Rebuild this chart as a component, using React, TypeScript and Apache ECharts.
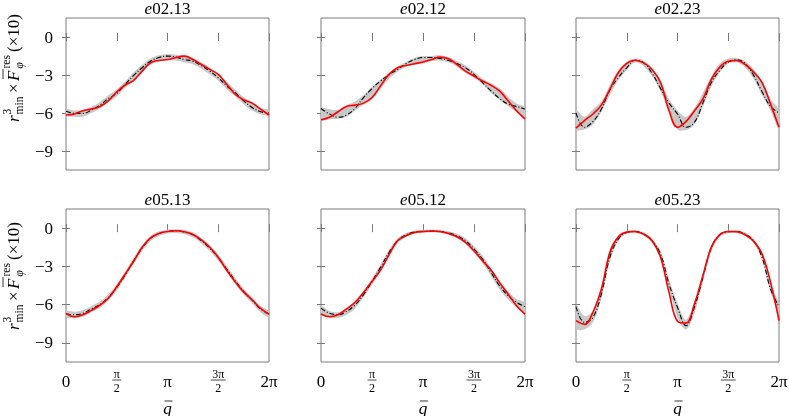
import React, { useEffect, useRef } from "react";
import * as echarts from "echarts";

// x positions in units of pi/12 (0 .. 2pi)
const Q_STEPS = [0, 1, 2, 3, 4, 5, 6, 7, 8, 9, 10, 11, 12, 13, 14, 15, 16, 17, 18, 19, 20, 21, 22, 23, 24];
const X_TICKS = [0, 6, 12, 18, 24];
const X_TICK_LABELS = ["0", "π/2", "π", "3π/2", "2π"];
const Y_TICKS = [0, -3, -6, -9];
const PANEL_TITLES = ["02.13", "02.12", "02.23", "05.13", "05.12", "05.23"];

// e02.13
const e0213Model = [-5.87, -6.03, -6.03, -5.77, -5.38, -4.86, -4.46, -3.73, -3.03, -2.43, -1.91, -1.62, -1.51, -1.59, -1.78, -1.91, -2.25, -2.69, -3.21, -3.86, -4.39, -5.04, -5.56, -5.9, -6.0];
const e0213Fit = [-6.16, -6.08, -5.82, -5.69, -5.48, -5.04, -4.33, -3.79, -3.42, -2.69, -2.04, -1.85, -1.78, -1.62, -1.51, -1.78, -2.17, -2.56, -2.95, -3.73, -4.52, -4.96, -5.22, -5.69, -6.16];
const e0213Low = [-6.2, -6.3, -6.3, -6.0, -5.65, -5.15, -4.7, -4.0, -3.45, -2.75, -2.2, -1.9, -1.85, -1.85, -2.0, -2.15, -2.5, -2.95, -3.45, -4.1, -4.7, -5.3, -5.8, -6.1, -6.2];
const e0213High = [-5.7, -5.8, -5.75, -5.5, -5.15, -4.6, -4.15, -3.5, -2.8, -2.2, -1.7, -1.45, -1.35, -1.4, -1.45, -1.65, -2.0, -2.4, -2.9, -3.55, -4.15, -4.75, -5.15, -5.6, -5.75];

// e02.12
const e0212Model = [-5.64, -6.08, -6.34, -6.16, -5.64, -4.78, -4.07, -3.47, -2.98, -2.56, -2.11, -1.78, -1.62, -1.62, -1.7, -1.85, -2.09, -2.43, -2.95, -3.6, -4.26, -4.86, -5.3, -5.48, -5.69];
const e0212Fit = [-6.53, -6.34, -5.9, -5.48, -5.38, -5.22, -4.78, -3.86, -2.95, -2.43, -2.25, -2.11, -1.98, -1.78, -1.59, -1.72, -2.17, -2.69, -3.08, -3.47, -3.81, -4.26, -5.04, -5.82, -6.47];
const e0212Low = [-6.6, -6.5, -6.45, -6.3, -5.8, -5.35, -4.95, -4.1, -3.3, -2.75, -2.35, -2.2, -2.1, -1.9, -1.85, -2.0, -2.35, -2.85, -3.25, -3.7, -4.4, -4.95, -5.45, -5.95, -6.55];
const e0212High = [-5.6, -5.7, -5.75, -5.4, -5.1, -4.6, -3.95, -3.35, -2.85, -2.35, -1.95, -1.65, -1.5, -1.5, -1.45, -1.6, -1.9, -2.25, -2.75, -3.3, -3.65, -4.05, -4.7, -5.25, -5.55];

// e02.23
const e0223Model = [-6.0, -7.13, -6.68, -5.69, -4.18, -3.21, -2.43, -1.83, -2.04, -2.87, -4.07, -5.22, -6.08, -7.13, -6.74, -5.22, -3.6, -2.64, -1.98, -1.8, -2.09, -3.03, -4.33, -5.48, -6.0];
const e0223Fit = [-7.2, -6.6, -6.08, -5.38, -4.13, -2.82, -2.09, -1.83, -2.04, -2.56, -3.6, -5.82, -7.13, -6.68, -5.82, -4.91, -3.34, -2.38, -1.91, -1.85, -2.17, -2.77, -3.6, -5.3, -7.13];
const e0223Low = [-7.3, -7.3, -6.9, -5.9, -4.6, -3.4, -2.6, -2.0, -2.3, -3.1, -4.3, -5.9, -7.3, -7.35, -6.9, -5.5, -3.9, -2.8, -2.1, -2.0, -2.4, -3.3, -4.6, -5.8, -7.3];
const e0223High = [-5.8, -6.3, -5.7, -5.1, -3.8, -2.6, -1.95, -1.7, -1.85, -2.45, -3.5, -4.9, -5.8, -6.3, -5.6, -4.4, -3.1, -2.1, -1.7, -1.65, -1.9, -2.55, -3.5, -4.9, -5.8];

// e05.13
const e0513Model = [-6.74, -6.79, -6.68, -6.34, -6.0, -5.43, -4.65, -3.66, -2.56, -1.57, -0.81, -0.42, -0.26, -0.21, -0.31, -0.52, -0.99, -1.57, -2.3, -3.21, -4.13, -4.96, -5.64, -6.34, -6.74];
const e0513Fit = [-6.68, -6.95, -6.8, -6.45, -6.05, -5.5, -4.6, -3.6, -2.6, -1.5, -0.76, -0.42, -0.26, -0.2, -0.28, -0.5, -0.92, -1.5, -2.3, -3.3, -4.2, -5.0, -5.62, -6.3, -6.75];
const e0513Low = [-7.0, -7.05, -6.95, -6.6, -6.25, -5.7, -4.9, -3.9, -2.8, -1.8, -1.0, -0.6, -0.42, -0.38, -0.48, -0.72, -1.2, -1.8, -2.55, -3.45, -4.4, -5.2, -5.9, -6.6, -7.0];
const e0513High = [-6.5, -6.55, -6.45, -6.1, -5.75, -5.2, -4.4, -3.4, -2.3, -1.35, -0.6, -0.25, -0.12, -0.08, -0.15, -0.33, -0.78, -1.35, -2.05, -2.95, -3.9, -4.75, -5.4, -6.1, -6.5];

// e05.12
const e0512Model = [-6.27, -6.68, -6.79, -6.53, -6.03, -5.22, -4.18, -3.08, -1.91, -0.99, -0.52, -0.31, -0.26, -0.23, -0.26, -0.37, -0.6, -0.99, -1.64, -2.43, -3.47, -4.52, -5.3, -5.82, -6.16];
const e0512Fit = [-6.74, -6.95, -6.79, -6.34, -5.82, -5.04, -4.18, -3.29, -2.09, -0.99, -0.6, -0.34, -0.26, -0.23, -0.26, -0.42, -0.68, -1.12, -1.78, -2.56, -3.29, -4.26, -5.17, -6.08, -6.74];
const e0512Low = [-6.75, -7.0, -7.05, -6.8, -6.3, -5.45, -4.45, -3.4, -2.2, -1.2, -0.7, -0.45, -0.38, -0.35, -0.38, -0.52, -0.8, -1.25, -1.95, -2.75, -3.75, -4.8, -5.6, -6.2, -6.65];
const e0512High = [-6.1, -6.5, -6.6, -6.3, -5.75, -4.95, -3.95, -2.85, -1.7, -0.8, -0.38, -0.2, -0.14, -0.12, -0.14, -0.25, -0.45, -0.8, -1.4, -2.15, -3.15, -4.2, -4.95, -5.55, -5.85];

// e05.23
const e0523Model = [-6.16, -7.39, -7.0, -5.17, -2.3, -0.86, -0.34, -0.26, -0.47, -0.99, -2.04, -4.39, -6.21, -7.65, -6.21, -3.86, -1.51, -0.52, -0.29, -0.26, -0.47, -0.99, -2.3, -4.78, -6.16];
const e0523Fit = [-7.26, -7.55, -6.6, -4.78, -1.91, -0.68, -0.31, -0.26, -0.47, -0.99, -2.3, -5.04, -7.3, -7.45, -5.95, -3.73, -1.51, -0.52, -0.26, -0.29, -0.52, -1.04, -2.04, -4.26, -7.26];
const e0523Low = [-7.9, -7.95, -7.4, -5.5, -2.6, -1.0, -0.45, -0.38, -0.6, -1.15, -2.3, -4.7, -7.0, -7.95, -6.7, -4.2, -1.8, -0.65, -0.4, -0.38, -0.6, -1.15, -2.5, -5.0, -6.6];
const e0523High = [-6.0, -6.9, -6.5, -4.7, -1.7, -0.7, -0.22, -0.15, -0.35, -0.85, -1.8, -4.0, -5.9, -7.2, -5.8, -3.5, -1.3, -0.4, -0.18, -0.15, -0.35, -0.85, -2.0, -4.4, -5.9];

const PANELS = [
  { title: PANEL_TITLES[0], model: e0213Model, fit: e0213Fit, low: e0213Low, high: e0213High },
  { title: PANEL_TITLES[1], model: e0212Model, fit: e0212Fit, low: e0212Low, high: e0212High },
  { title: PANEL_TITLES[2], model: e0223Model, fit: e0223Fit, low: e0223Low, high: e0223High },
  { title: PANEL_TITLES[3], model: e0513Model, fit: e0513Fit, low: e0513Low, high: e0513High },
  { title: PANEL_TITLES[4], model: e0512Model, fit: e0512Fit, low: e0512Low, high: e0512High },
  { title: PANEL_TITLES[5], model: e0523Model, fit: e0523Fit, low: e0523Low, high: e0523High },
];

const FONT = '"Liberation Serif", "Times New Roman", serif';
const FRAME = "#7a7a7a";
const LEFTS = [66, 321, 576];
const WIDTHS = [203, 204, 203];
const TOPS = [18, 209];
const HEIGHTS = [152, 153];

function gridRect(i: number) {
  const c = i % 3;
  const r = Math.floor(i / 3);
  return { left: LEFTS[c], top: TOPS[r], width: WIDTHS[c], height: HEIGHTS[r] };
}

function txt(text: string, x: number, y: number, size: number, italic: boolean, align = "left") {
  return {
    type: "text",
    x,
    y,
    silent: true,
    style: {
      text,
      fill: "#000",
      fontFamily: FONT,
      fontSize: size,
      fontStyle: italic ? "italic" : "normal",
      align,
      verticalAlign: "middle",
    },
  };
}

function yLabel(ox: number, oy: number) {
  return {
    type: "group",
    x: ox,
    y: oy,
    rotation: Math.PI / 2,
    children: [
      txt("r", 0, -5, 17, true),
      txt("3", 7.5, -11, 11.5, false),
      txt("min", 7.5, 0.5, 11.5, false),
      txt("×", 29, -5, 17, false),
      txt("F", 41, -5, 17, true),
      { type: "line", silent: true, shape: { x1: 43, y1: -15, x2: 53, y2: -15 }, style: { stroke: "#000", lineWidth: 0.8 } },
      txt("res", 53.5, -12, 11.5, false),
      txt("φ", 53.5, 0.5, 11.5, true),
      txt("(×10)", 70, -5, 17, false),
    ],
  };
}

export default function App() {
  const ref = useRef<HTMLDivElement>(null);

  useEffect(() => {
    if (!ref.current) return;
    const chart = echarts.init(ref.current, null, { renderer: "svg" });

    const grids: any[] = [];
    const xAxes: any[] = [];
    const yAxes: any[] = [];
    const series: any[] = [];

    PANELS.forEach((p, i) => {
      const g = gridRect(i);
      grids.push({ ...g, show: true, borderColor: FRAME, borderWidth: 1, backgroundColor: "transparent" });
    });
    PANELS.forEach((p, i) => {
      xAxes.push({
        type: "value", gridIndex: i, min: 0, max: 24, interval: 6, position: "bottom",
        axisLine: { show: false }, splitLine: { show: false },
        axisTick: { show: true, inside: true, length: 4, lineStyle: { color: FRAME } },
        axisLabel: { show: false },
      });
    });
    PANELS.forEach((p, i) => {
      xAxes.push({
        type: "value", gridIndex: i, min: 0, max: 24, interval: 6, position: "top",
        axisLine: { show: false }, splitLine: { show: false },
        axisTick: { show: true, inside: true, length: 4, lineStyle: { color: FRAME } },
        axisLabel: { show: false },
      });
    });
    PANELS.forEach((p, i) => {
      yAxes.push({
        type: "value", gridIndex: i, min: -10.5, max: 1.5, position: "left",
        axisLine: { show: false }, splitLine: { show: false },
        axisTick: { show: true, inside: true, length: 4, lineStyle: { color: FRAME }, customValues: Y_TICKS },
        axisLabel: {
          show: i % 3 === 0, customValues: Y_TICKS, margin: 13,
          color: "#000", fontFamily: FONT, fontSize: 17,
          formatter: (v: number) => (v === 0 ? "0" : "−" + Math.abs(v)),
        },
      });
    });
    PANELS.forEach((p, i) => {
      yAxes.push({
        type: "value", gridIndex: i, min: -10.5, max: 1.5, position: "right",
        axisLine: { show: false }, splitLine: { show: false },
        axisTick: { show: true, inside: true, length: 4, lineStyle: { color: FRAME }, customValues: Y_TICKS },
        axisLabel: { show: false },
      });
    });

    PANELS.forEach((p, i) => {
      const zip = (arr: number[]) => Q_STEPS.map((q, k) => [q, arr[k]]);
      series.push({
        type: "custom", xAxisIndex: i, yAxisIndex: i,
        data: Q_STEPS.map((q, k) => [q, p.low[k], p.high[k]]),
        encode: { x: 0, y: [1, 2] },
        clip: true, silent: true, z: 1,
        renderItem: (params: any, api: any) => {
          if (params.dataIndex !== 0) return null;
          const upper = Q_STEPS.map((q, k) => api.coord([q, p.high[k]]));
          const lower = Q_STEPS.map((q, k) => api.coord([q, p.low[k]])).reverse();
          return {
            type: "polygon",
            shape: { points: upper.concat(lower), smooth: 0.3 },
            style: { fill: "#c8c8c8", stroke: "none" },
          };
        },
      });
      series.push({
        type: "line", xAxisIndex: i, yAxisIndex: i, data: zip(p.model),
        smooth: 0.4, symbol: "none", silent: true,
        lineStyle: { color: "#000", width: 1.1, type: [5, 2, 1, 2] }, z: 2,
      });
      series.push({
        type: "line", xAxisIndex: i, yAxisIndex: i, data: zip(p.fit),
        smooth: 0.4, symbol: "none", silent: true,
        lineStyle: { color: "#ff0000", width: 1.6 }, z: 3,
      });
    });

    chart.setOption({
      animation: false,
      grid: grids,
      xAxis: xAxes,
      yAxis: yAxes,
      series,
    });

    const graphic: any[] = [];
    PANELS.forEach((p, i) => {
      const g = gridRect(i);
      const cx = g.left + g.width / 2;
      graphic.push({
        type: "text", x: cx, y: g.top - 10, silent: true,
        style: {
          text: "{i|e}" + p.title,
          fill: "#000", fontFamily: FONT, fontSize: 17, align: "center", verticalAlign: "middle",
          rich: { i: { fontStyle: "italic", fontFamily: FONT, fontSize: 17 } },
        },
      });
      if (i >= 3) {
        X_TICKS.forEach((t, j) => {
          const px = chart.convertToPixel({ xAxisIndex: i } as any, t) as number;
          const lab = X_TICK_LABELS[j];
          if (lab.includes("/")) {
            const [num, den] = lab.split("/");
            const half = num.length > 1 ? 7.5 : 4.5;
            graphic.push(txt(num, px, 374, 12, false, "center"));
            graphic.push({ type: "line", silent: true, shape: { x1: px - half, y1: 380, x2: px + half, y2: 380 }, style: { stroke: "#000", lineWidth: 0.7 } });
            graphic.push(txt(den, px, 388, 12, false, "center"));
          } else {
            graphic.push(txt(lab, px, 381, 17, false, "center"));
          }
        });
        graphic.push(txt("q", cx, 408, 17, true, "center"));
        graphic.push({ type: "line", silent: true, shape: { x1: cx - 3, y1: 401, x2: cx + 5, y2: 401 }, style: { stroke: "#000", lineWidth: 0.8 } });
      }
    });
    graphic.push(yLabel(18, 122));
    graphic.push(yLabel(18, 330));

    chart.setOption({ graphic });

    return () => chart.dispose();
  }, []);

  return <div ref={ref} style={{ position: "fixed", left: 0, top: 0, width: 789, height: 416 }} />;
}
